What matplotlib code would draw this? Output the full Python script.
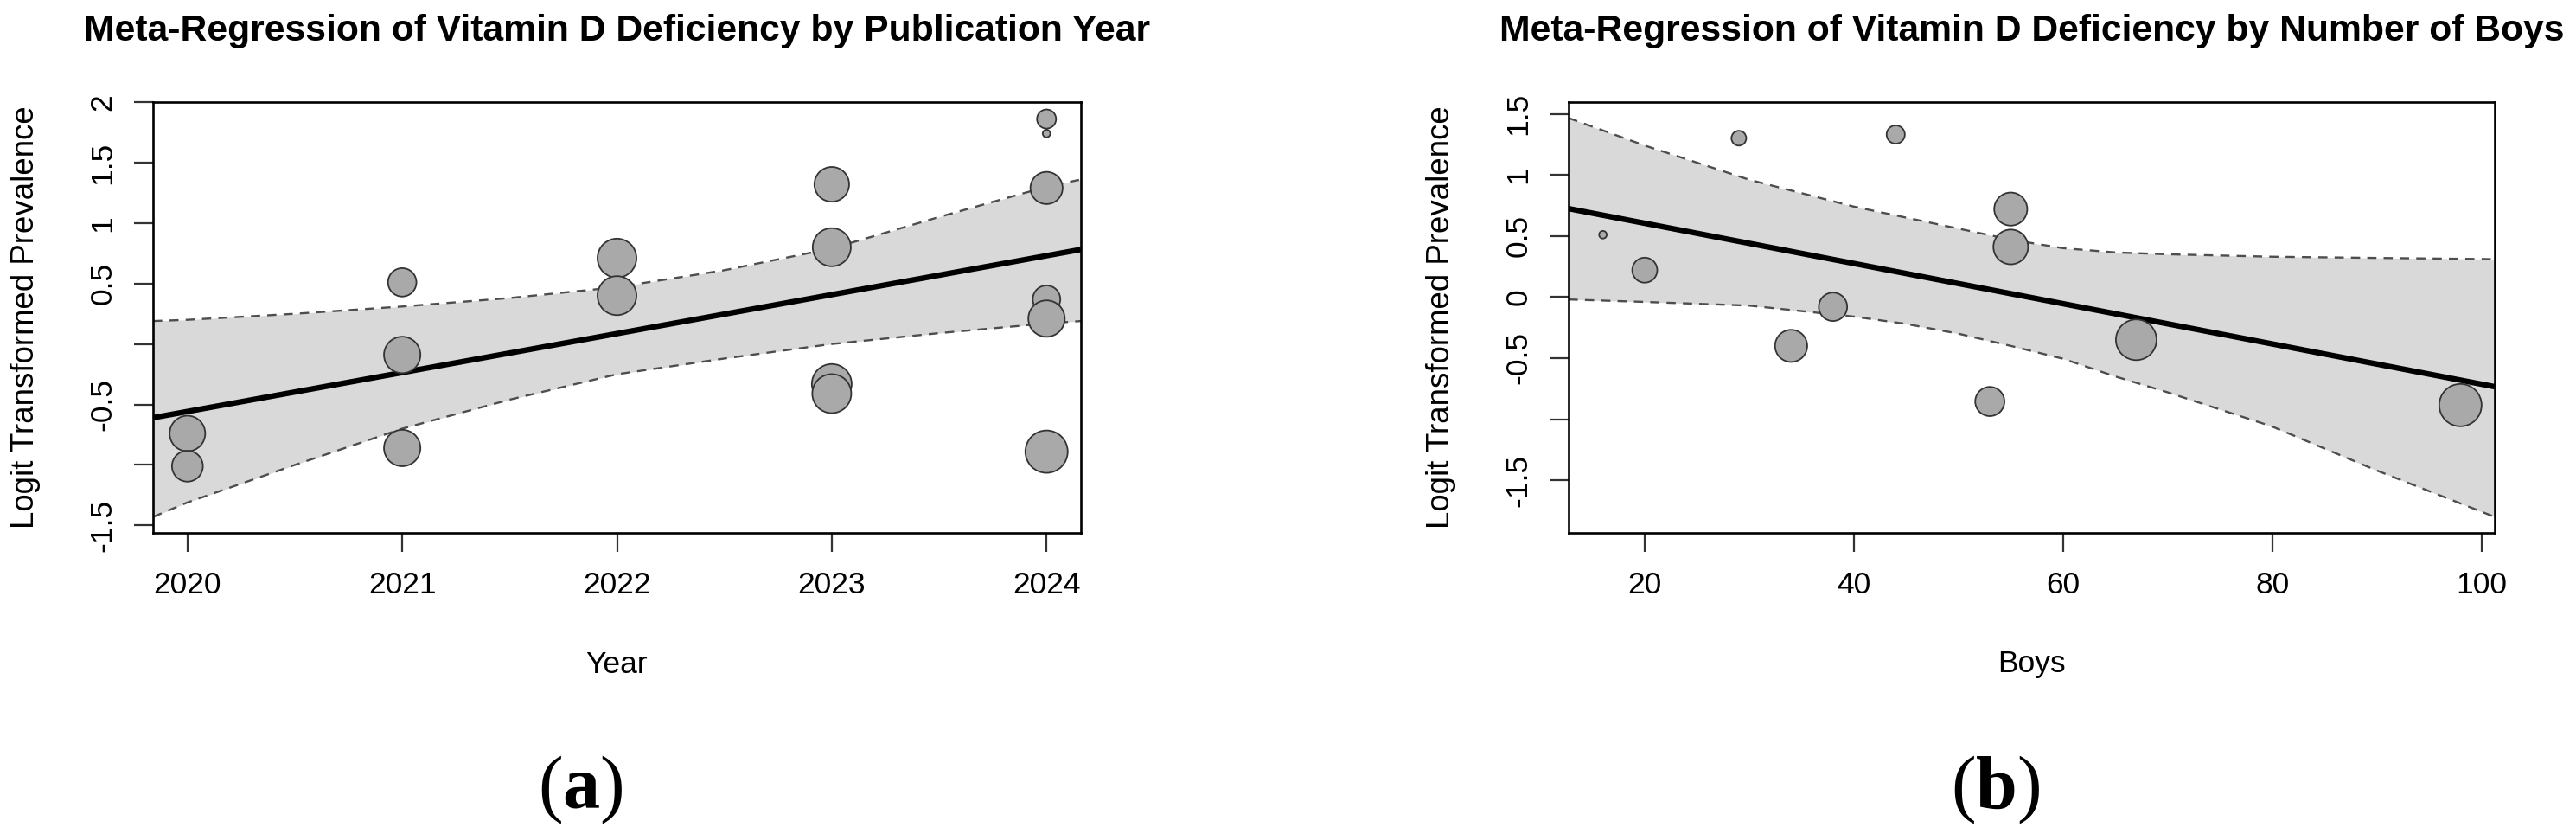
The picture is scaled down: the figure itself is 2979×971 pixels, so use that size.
import numpy as np
import matplotlib
matplotlib.use("Agg")
import matplotlib.pyplot as plt

# ---- values ----
# (a) publication year
year = [2020, 2020, 2021, 2021, 2021, 2022, 2022, 2023, 2023, 2023, 2023,
        2024, 2024, 2024, 2024, 2024, 2024]
year_logit = [-0.74, -1.01, 0.51, -0.09, -0.86, 0.71, 0.40, 1.32, 0.80, -0.33, -0.41,
              1.86, 1.74, 1.29, 0.37, 0.21, -0.89]
year_w = [84, 73, 67, 86, 86, 92, 92, 82, 90, 94, 92, 45, 18, 76, 65, 86, 100]
year_b0 = -0.558   # fitted value at 2020
year_b1 = 0.322    # slope per year
year_ci_x = [2019.84, 2020, 2020.5, 2021, 2021.5, 2022, 2022.5, 2023, 2023.5, 2024, 2024.16]
year_ci_hi = [0.19, 0.20, 0.25, 0.31, 0.38, 0.47, 0.61, 0.79, 1.05, 1.30, 1.36]
year_ci_lo = [-1.43, -1.31, -1.00, -0.70, -0.46, -0.25, -0.12, 0.00, 0.09, 0.17, 0.19]

# (b) number of boys
boys = [16, 20, 29, 44, 34, 38, 53, 55, 55, 67, 98]
boys_logit = [0.51, 0.22, 1.30, 1.33, -0.40, -0.08, -0.855, 0.72, 0.41, -0.35, -0.885]
boys_w = [18, 59, 35, 43, 76, 67, 69, 78, 82, 96, 100]
boys_b0 = 0.933    # fitted value at 0 boys
boys_b1 = -0.01646
boys_ci_x = [12.72, 20, 30, 40, 45, 50, 55, 60, 65, 70, 80, 90, 101.28]
boys_ci_hi = [1.465, 1.24, 0.96, 0.74, 0.65, 0.56, 0.47, 0.40, 0.365, 0.35, 0.33, 0.32, 0.31]
boys_ci_lo = [-0.02, -0.04, -0.07, -0.16, -0.22, -0.30, -0.40, -0.505, -0.65, -0.78, -1.06, -1.42, -1.80]

W, H, DPI = 2979, 971, 100
SANS = ["Liberation Sans", "DejaVu Sans"]
FS = 25.5

plt.rcParams["font.family"] = SANS
plt.rcParams["mathtext.fontset"] = "custom"
plt.rcParams["mathtext.rm"] = "Liberation Serif"
plt.rcParams["mathtext.bf"] = "Liberation Serif:bold"

fig = plt.figure(figsize=(W / DPI, H / DPI), dpi=DPI)


def fx(px):
    return px / W


def fy(py):
    return 1 - py / H


def rlim(vals):
    # R style: 4% padding around the data range
    lo, hi = min(vals), max(vals)
    d = 0.04 * (hi - lo)
    return lo - d, hi + d


def panel(left, right, x, yv, w, b0, x0, b1, cx, lo, hi, xticks, yticks, ylabs,
          title, xlabel, tag, tagx):
    ax = fig.add_axes([fx(left), fy(616), fx(right - left), fy(118) - fy(616)])
    xl = rlim(list(x))
    yl = rlim(list(yv) + lo + hi)
    ax.fill_between(cx, lo, hi, color="#d9d9d9", lw=0, zorder=1)
    for b in (lo, hi):
        ax.plot(cx, b, color="#4d4d4d", lw=1.7, ls=(0, (4.5, 3.5)), zorder=2)
    xs = np.array(xl)
    ax.plot(xs, b0 + b1 * (xs - x0), color="black", lw=4.6, zorder=3,
            solid_capstyle="butt")
    d_pt = np.array(w) / 100 * 49 * 72 / DPI
    ax.scatter(x, yv, s=d_pt ** 2, c="#a9a9a9", edgecolors="#333333",
               linewidths=1.3, zorder=5)
    ax.set_xlim(xl)
    ax.set_ylim(yl)
    ax.set_xticks(xticks)
    ax.set_xticklabels([str(t) for t in xticks], fontsize=FS)
    ax.set_yticks(yticks)
    ax.set_yticklabels(ylabs, fontsize=FS, rotation=90, va="center")
    ax.tick_params(direction="out", length=15.8, width=1.6, color="#333333")
    ax.tick_params(axis="x", pad=16)
    ax.tick_params(axis="y", pad=14)
    for s in ax.spines.values():
        s.set_linewidth(1.9)
    mid = (left + right) / 2
    fig.text(fx(mid), fy(47), title, ha="center", va="baseline",
             fontsize=30.7, fontweight="bold")
    fig.text(fx(mid), fy(768), xlabel, ha="center", va="center", fontsize=FS)
    fig.text(fx(left - 147), fy(367), "Logit Transformed Prevalence",
             rotation=90, ha="center", va="center", fontsize=26.4)
    fig.text(fx(tagx), fy(913), r"$\mathrm{(}\mathbf{" + tag + r"}\mathrm{)}$",
             ha="center", va="center", fontsize=62)
    return ax


panel(177, 1250, year, year_logit, year_w, year_b0, 2020, year_b1,
      year_ci_x, year_ci_lo, year_ci_hi,
      [2020, 2021, 2022, 2023, 2024],
      [-1.5, -1, -0.5, 0, 0.5, 1, 1.5, 2],
      ["-1.5", "", "-0.5", "", "0.5", "1", "1.5", "2"],
      "Meta-Regression of Vitamin D Deficiency by Publication Year", "Year", "a", 671)

panel(1814, 2885, boys, boys_logit, boys_w, boys_b0, 0, boys_b1,
      boys_ci_x, boys_ci_lo, boys_ci_hi,
      [20, 40, 60, 80, 100],
      [-1.5, -1, -0.5, 0, 0.5, 1, 1.5],
      ["-1.5", "", "-0.5", "0", "0.5", "1", "1.5"],
      "Meta-Regression of Vitamin D Deficiency by Number of Boys", "Boys", "b", 2308)

fig.savefig("out.png", dpi=DPI)
